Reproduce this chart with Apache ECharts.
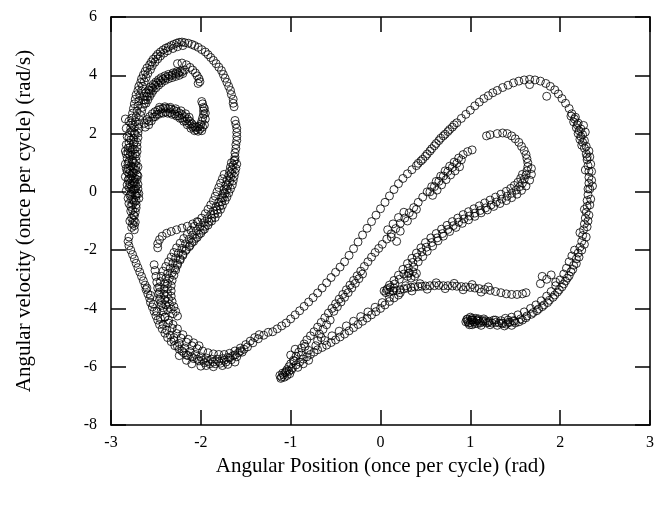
<!DOCTYPE html>
<html>
<head>
<meta charset="utf-8">
<script src="https://cdn.jsdelivr.net/npm/echarts@6/dist/echarts.min.js"></script>
<style>html,body{margin:0;padding:0;background:#fff;}#chart{width:657px;height:508px;}</style>
</head>
<body>
<div id="chart"></div>
<script>
const xTicks = [-3,-2,-1,0,1,2,3];
const yTicks = [-8,-6,-4,-2,0,2,4,6];
const xTitle = 'Angular Position (once per cycle) (rad)';
const yTitle = 'Angular velocity (once per cycle) (rad/s)';

const leftTopArc = [[-2.10,5.06],[-2.14,5.10],[-2.18,5.12],[-2.21,5.14],[-2.24,5.13],[-2.27,5.10],[-2.30,5.06],[-2.33,5.02],[-2.36,4.97],[-2.39,4.93],[-2.42,4.87],[-2.45,4.80],[-2.48,4.72],[-2.50,4.64],[-2.53,4.55],[-2.55,4.46],[-2.57,4.36],[-2.60,4.25],[-2.62,4.13],[-2.64,4.01],[-2.66,3.88],[-2.67,3.75],[-2.69,3.62],[-2.70,3.48],[-2.72,3.33],[-2.73,3.18],[-2.74,3.02],[-2.75,2.86],[-2.76,2.70],[-2.77,2.53],[-2.78,2.36],[-2.78,2.20],[-2.79,2.03],[-2.80,1.86],[-2.80,1.68],[-2.81,1.50],[-2.81,1.33],[-2.82,1.15],[-2.81,0.97],[-2.81,0.80],[-2.80,0.62],[-2.80,0.45],[-2.79,0.28],[-2.78,0.10],[-2.78,-0.08],[-2.77,-0.26],[-2.76,-0.44],[-2.76,-0.62],[-2.75,-0.80],[-2.75,-0.98],[-2.74,-1.16],[-2.74,-1.30]];
const leftTopArc2 = [[-2.20,5.02],[-2.26,4.98],[-2.31,4.92],[-2.37,4.84],[-2.41,4.76],[-2.45,4.66],[-2.48,4.56],[-2.51,4.45],[-2.54,4.33],[-2.56,4.20],[-2.59,4.06],[-2.61,3.92],[-2.63,3.78],[-2.65,3.62],[-2.66,3.46],[-2.68,3.30],[-2.69,3.12],[-2.70,2.95],[-2.71,2.77],[-2.72,2.58],[-2.73,2.40],[-2.74,2.21],[-2.74,2.02],[-2.75,1.83],[-2.75,1.64],[-2.76,1.44],[-2.76,1.25],[-2.76,1.05],[-2.76,0.86],[-2.75,0.66],[-2.75,0.47],[-2.74,0.28],[-2.74,0.08],[-2.73,-0.10],[-2.72,-0.30]];
const leftInner = [[-2.18,4.18],[-2.21,4.12],[-2.25,4.08],[-2.28,4.05],[-2.32,4.01],[-2.35,3.97],[-2.39,3.92],[-2.42,3.87],[-2.45,3.81],[-2.48,3.74],[-2.51,3.66],[-2.54,3.57],[-2.56,3.48],[-2.58,3.38],[-2.60,3.27],[-2.62,3.15],[-2.63,3.03],[-2.65,2.90],[-2.66,2.76],[-2.67,2.62],[-2.68,2.47],[-2.69,2.32],[-2.69,2.17],[-2.70,2.02],[-2.70,1.86],[-2.71,1.70],[-2.71,1.54],[-2.71,1.38],[-2.72,1.22],[-2.72,1.06],[-2.72,0.90],[-2.72,0.74],[-2.71,0.58],[-2.71,0.42],[-2.70,0.26],[-2.70,0.10],[-2.69,-0.06],[-2.69,-0.22]];
const leftInner2 = [[-2.20,4.06],[-2.24,4.00],[-2.28,3.96],[-2.32,3.92],[-2.36,3.88],[-2.40,3.82],[-2.44,3.74],[-2.47,3.66],[-2.50,3.57],[-2.53,3.48],[-2.55,3.38],[-2.57,3.28],[-2.59,3.16],[-2.61,3.04],[-2.23,4.14],[-2.27,4.12],[-2.31,4.08],[-2.36,4.03],[-2.40,3.98],[-2.44,3.92],[-2.47,3.85],[-2.50,3.77],[-2.53,3.69],[-2.56,3.60],[-2.58,3.50],[-2.61,3.40],[-2.63,3.28],[-2.64,3.16]];
const leftCluster = [[-2.83,1.30],[-2.79,1.25],[-2.76,1.10],[-2.84,0.95],[-2.78,0.88],[-2.74,0.78],[-2.82,0.70],[-2.77,0.55],[-2.73,0.45],[-2.81,0.40],[-2.76,0.30],[-2.72,0.20],[-2.80,0.15],[-2.75,0.05],[-2.79,-0.12],[-2.71,-0.05],[-2.74,-0.35],[-2.78,-0.50],[-2.73,-0.70],[-2.77,-0.90],[-2.76,-1.10],[-2.72,-0.55]];
const leftColumnDense = [[-2.84,2.50],[-2.80,2.42],[-2.76,2.30],[-2.83,2.18],[-2.77,2.08],[-2.73,1.98],[-2.82,1.90],[-2.78,1.78],[-2.74,1.70],[-2.83,1.62],[-2.79,1.52],[-2.74,1.46],[-2.84,1.40],[-2.78,1.36],[-2.73,1.30],[-2.80,1.04],[-2.74,0.98],[-2.70,0.86],[-2.83,0.80],[-2.79,0.74],[-2.76,0.64],[-2.70,0.55],[-2.84,0.52],[-2.78,0.46],[-2.74,0.36],[-2.82,0.24],[-2.77,0.18],[-2.73,0.10],[-2.83,0.04],[-2.77,-0.02],[-2.72,-0.14],[-2.81,-0.22],[-2.75,-0.28],[-2.80,-0.40],[-2.72,-0.44],[-2.78,-0.66],[-2.74,-0.82],[-2.79,-1.00],[-2.73,-1.04],[-2.77,-1.22]];
const leftHook = [[-2.26,4.40],[-2.21,4.42],[-2.16,4.36],[-2.12,4.27],[-2.09,4.18],[-2.06,4.08],[-2.04,3.98],[-2.02,3.88],[-2.01,3.78],[-2.03,3.72]];
const leftWave = [[-2.63,2.35],[-2.60,2.48],[-2.57,2.58],[-2.54,2.68],[-2.51,2.75],[-2.48,2.80],[-2.45,2.84],[-2.42,2.86],[-2.39,2.87],[-2.36,2.86],[-2.33,2.84],[-2.30,2.80],[-2.27,2.76],[-2.24,2.71],[-2.21,2.65],[-2.18,2.58],[-2.15,2.50],[-2.12,2.42],[-2.10,2.34],[-2.08,2.27],[-2.06,2.22],[-2.04,2.21],[-2.02,2.25],[-2.00,2.32],[-1.99,2.42],[-1.98,2.54],[-1.97,2.66],[-1.97,2.78],[-1.97,2.90],[-1.98,3.02],[-1.99,3.10],[-2.58,2.42],[-2.53,2.56],[-2.49,2.66],[-2.44,2.72],[-2.39,2.74],[-2.34,2.72],[-2.29,2.67],[-2.25,2.61],[-2.21,2.53],[-2.17,2.44],[-2.13,2.34],[-2.09,2.22],[-2.05,2.13],[-2.01,2.15],[-1.98,2.22]];
const leftWave2 = [[-2.62,2.22],[-2.58,2.30],[-2.55,2.44],[-2.51,2.58],[-2.47,2.66],[-2.42,2.70],[-2.37,2.70],[-2.32,2.66],[-2.27,2.60],[-2.23,2.52],[-2.19,2.42],[-2.15,2.30],[-2.11,2.18],[-2.07,2.10],[-2.03,2.08],[-1.99,2.10],[-1.96,2.30],[-1.95,2.50],[-1.95,2.70],[-1.96,2.86],[-2.46,2.90],[-2.40,2.92],[-2.34,2.90],[-2.28,2.85],[-2.22,2.78],[-2.17,2.68],[-2.13,2.56]];
const leftRight = [[-2.07,5.02],[-2.03,4.96],[-1.99,4.88],[-1.95,4.80],[-1.92,4.71],[-1.89,4.61],[-1.86,4.51],[-1.83,4.40],[-1.80,4.28],[-1.77,4.16],[-1.75,4.03],[-1.73,3.90],[-1.71,3.76],[-1.69,3.62],[-1.67,3.48],[-1.66,3.34],[-1.64,3.18],[-1.64,3.04],[-1.63,2.92],[-1.62,2.45],[-1.61,2.32],[-1.60,2.18],[-1.60,2.04],[-1.60,1.90],[-1.60,1.76],[-1.61,1.62],[-1.61,1.48],[-1.62,1.34],[-1.62,1.20],[-1.63,1.06],[-1.64,0.92],[-1.65,0.78],[-1.66,0.64],[-1.67,0.50],[-1.68,0.36],[-1.70,0.22],[-1.71,0.08],[-1.73,-0.06],[-1.75,-0.20],[-1.77,-0.34],[-1.79,-0.48],[-1.82,-0.62],[-1.85,-0.76],[-1.88,-0.90],[-1.91,-1.04],[-1.95,-1.18],[-1.98,-1.32],[-2.02,-1.46],[-2.06,-1.60],[-2.10,-1.74],[-2.13,-1.88],[-2.17,-2.02],[-2.20,-2.18],[-2.23,-2.34],[-2.26,-2.51],[-2.28,-2.68],[-2.30,-2.86],[-2.32,-3.04],[-2.33,-3.22],[-2.33,-3.40],[-2.33,-3.58],[-2.32,-3.76],[-2.30,-3.94],[-2.28,-4.10],[-2.26,-4.26]];
const leftRight2 = [[-1.66,1.00],[-1.67,0.85],[-1.68,0.70],[-1.69,0.55],[-1.71,0.40],[-1.72,0.25],[-1.74,0.10],[-1.75,-0.05],[-1.77,-0.20],[-1.80,-0.35],[-1.83,-0.50],[-1.86,-0.65],[-1.89,-0.78],[-1.93,-0.92],[-1.97,-1.06],[-2.01,-1.20],[-2.05,-1.34],[-2.09,-1.48],[-2.13,-1.63],[-2.17,-1.78],[-2.21,-1.94],[-2.25,-2.10],[-2.28,-2.27],[-2.31,-2.44],[-2.34,-2.62],[-2.37,-2.80],[-2.39,-2.98],[-2.40,-3.16],[-2.41,-3.34],[-2.41,-3.52],[-2.40,-3.70],[-2.39,-3.88],[-2.37,-4.04]];
const leftRight3 = [[-1.62,1.10],[-1.60,0.95],[-1.61,0.80],[-1.62,0.66],[-1.63,0.52],[-1.64,0.38],[-1.65,0.24],[-1.67,0.10],[-1.69,-0.04],[-1.71,-0.18],[-1.73,-0.30],[-1.76,-0.46],[-1.78,-0.60],[-1.81,-0.74],[-1.84,-0.88],[-1.88,-1.00],[-1.92,-1.14],[-1.96,-1.28],[-2.00,-1.42],[-2.04,-1.56],[-2.08,-1.70],[-2.12,-1.84],[-2.16,-1.98],[-2.20,-2.14],[-2.23,-2.30],[-2.26,-2.46],[-2.29,-2.62],[-2.32,-2.78],[-2.35,-2.96],[-2.37,-3.14],[-2.37,-3.32],[-2.37,-3.50],[-2.36,-3.68],[-2.35,-3.86],[-2.33,-4.02],[-2.31,-4.18]];
const leftRight4 = [[-1.74,0.60],[-1.76,0.45],[-1.78,0.30],[-1.80,0.15],[-1.82,0.00],[-1.84,-0.15],[-1.86,-0.30],[-1.89,-0.45],[-1.92,-0.60],[-1.95,-0.75],[-1.99,-0.90],[-2.03,-1.04],[-2.07,-1.18],[-2.11,-1.32],[-2.15,-1.46],[-2.19,-1.60],[-2.23,-1.76],[-2.27,-1.92],[-2.30,-2.08],[-2.33,-2.24],[-2.36,-2.40],[-2.39,-2.56],[-2.42,-2.72],[-2.44,-2.90],[-2.45,-3.08],[-2.46,-3.26],[-2.46,-3.44],[-2.45,-3.62],[-2.44,-3.80],[-2.42,-3.98]];
const leftCurl = [[-2.48,-1.92],[-2.48,-1.78],[-2.46,-1.64],[-2.43,-1.52],[-2.38,-1.42],[-2.33,-1.36],[-2.27,-1.30],[-2.21,-1.24],[-2.15,-1.18],[-2.09,-1.10],[-2.04,-1.02]];
const leftBand3 = [[-2.52,-2.50],[-2.51,-2.70],[-2.50,-2.90],[-2.49,-3.10],[-2.48,-3.30],[-2.47,-3.50],[-2.46,-3.70],[-2.44,-3.90],[-2.42,-4.10],[-2.40,-4.30]];
const leftColumnLow = [[-2.80,-1.55],[-2.81,-1.70],[-2.80,-1.85],[-2.78,-2.00],[-2.76,-2.15],[-2.74,-2.30],[-2.72,-2.45],[-2.70,-2.60],[-2.68,-2.75],[-2.66,-2.90],[-2.64,-3.05],[-2.62,-3.20],[-2.61,-3.35],[-2.59,-3.50],[-2.57,-3.65],[-2.56,-3.80],[-2.54,-3.95],[-2.52,-4.10],[-2.50,-4.25],[-2.48,-4.40],[-2.46,-4.55],[-2.43,-4.70],[-2.40,-4.85],[-2.37,-5.00],[-2.33,-5.14],[-2.29,-5.28],[-2.24,-5.40],[-2.19,-5.52],[-2.14,-5.62],[-2.08,-5.72],[-2.02,-5.80],[-1.96,-5.86],[-1.90,-5.90],[-1.84,-5.90],[-1.78,-5.88],[-1.72,-5.84],[-1.66,-5.76],[-1.60,-5.66],[-1.54,-5.50],[-1.48,-5.32],[-1.42,-5.18],[-1.36,-5.04],[-1.30,-4.92],[-1.25,-4.82]];
const leftBottomInner = [[-2.40,-4.30],[-2.36,-4.50],[-2.32,-4.68],[-2.27,-4.86],[-2.22,-5.02],[-2.16,-5.16],[-2.10,-5.28],[-2.04,-5.38],[-1.98,-5.46],[-1.92,-5.52],[-1.86,-5.56],[-1.80,-5.58],[-1.74,-5.58],[-1.68,-5.54],[-1.62,-5.46],[-1.56,-5.36],[-1.50,-5.24],[-1.45,-5.12],[-1.40,-5.00],[-1.35,-4.90],[-2.30,-5.00],[-2.24,-5.20],[-2.18,-5.36],[-2.12,-5.48],[-2.06,-5.58],[-2.00,-5.66],[-1.94,-5.70],[-1.88,-5.74],[-1.82,-5.74],[-1.76,-5.72],[-1.70,-5.68],[-1.64,-5.62],[-1.58,-5.52],[-1.52,-5.40]];
const leftBottomMore = [[-2.60,-3.30],[-2.56,-3.55],[-2.53,-3.85],[-2.49,-4.10],[-2.45,-4.35],[-2.42,-4.55],[-2.38,-4.75],[-2.34,-4.92],[-2.30,-5.10],[-2.26,-5.30],[-2.21,-5.46],[-2.16,-5.60],[-2.10,-5.66],[-2.04,-5.74],[-1.98,-5.78],[-1.92,-5.82],[-1.86,-5.84],[-1.80,-5.82],[-1.74,-5.78],[-1.68,-5.70],[-1.62,-5.60],[-1.56,-5.46],[-2.36,-4.40],[-2.31,-4.55],[-2.26,-4.70],[-2.20,-4.90],[-2.14,-5.06],[-2.08,-5.18],[-2.02,-5.28]];
const leftBottomOuter = [[-2.10,-5.90],[-2.00,-5.98],[-1.94,-5.96],[-1.86,-6.00],[-1.76,-5.96],[-1.70,-5.92],[-2.16,-5.78],[-2.24,-5.62],[-1.62,-5.84]];
const upperLine = [[-1.20,-4.80],[-1.15,-4.70],[-1.10,-4.60],[-1.05,-4.50],[-1.00,-4.36],[-0.95,-4.22],[-0.90,-4.08],[-0.85,-3.93],[-0.80,-3.78],[-0.75,-3.63],[-0.70,-3.47],[-0.65,-3.30],[-0.60,-3.12],[-0.55,-2.94],[-0.50,-2.76],[-0.45,-2.58],[-0.40,-2.40],[-0.35,-2.18],[-0.30,-1.95],[-0.25,-1.72],[-0.20,-1.48],[-0.15,-1.25],[-0.10,-1.02],[-0.05,-0.80],[0.00,-0.58],[0.05,-0.36],[0.10,-0.14],[0.15,0.08],[0.20,0.28],[0.25,0.46],[0.30,0.62],[0.35,0.76],[0.40,0.90],[0.45,1.06],[0.50,1.22],[0.55,1.40],[0.60,1.58],[0.65,1.76],[0.70,1.92],[0.75,2.07],[0.80,2.22],[0.85,2.37],[0.90,2.52],[0.95,2.66],[0.42,0.98],[0.47,1.12],[0.52,1.30],[0.57,1.48],[0.62,1.66],[0.67,1.84],[0.72,1.98],[0.77,2.14],[0.82,2.30]];
const rightArc = [[1.00,2.80],[1.05,2.95],[1.10,3.08],[1.15,3.20],[1.20,3.30],[1.25,3.40],[1.30,3.48],[1.36,3.58],[1.42,3.66],[1.48,3.74],[1.54,3.80],[1.60,3.84],[1.66,3.86],[1.72,3.84],[1.78,3.80],[1.84,3.72],[1.89,3.62],[1.94,3.50],[1.98,3.36],[2.02,3.20],[2.06,3.04],[2.10,2.86],[2.13,2.68],[2.16,2.50],[2.19,2.30],[2.21,2.10],[2.23,1.90],[2.25,1.70],[2.27,1.50],[2.29,1.30],[2.30,1.10],[2.31,0.90],[2.32,0.70],[2.32,0.50],[2.32,0.30],[2.31,0.10],[2.31,-0.10],[2.30,-0.30],[2.30,-0.50],[2.29,-0.70],[2.28,-0.90],[2.27,-1.10],[2.26,-1.30],[2.25,-1.50],[2.24,-1.70],[2.22,-1.90],[2.20,-2.10],[2.18,-2.30],[2.15,-2.52],[2.12,-2.74],[2.08,-2.96],[2.04,-3.16],[1.99,-3.36],[1.94,-3.54],[1.88,-3.72],[1.82,-3.88],[1.76,-4.02],[1.70,-4.14],[1.63,-4.26],[1.56,-4.36],[1.49,-4.44],[1.42,-4.48],[1.35,-4.50],[1.28,-4.48],[1.21,-4.44],[1.14,-4.42],[1.08,-4.40],[1.02,-4.40],[1.66,3.68],[1.85,3.28]];
const rightArc2 = [[2.12,2.60],[2.15,2.40],[2.18,2.20],[2.20,2.00],[2.22,1.80],[2.24,1.60],[2.30,1.20],[2.34,0.95],[2.28,0.75],[2.35,0.40],[2.33,0.10],[2.27,-0.60],[2.31,-1.00],[2.22,-1.40],[2.27,-1.80],[2.16,-2.00],[2.13,-2.20],[2.10,-2.40],[2.07,-2.62],[2.04,-2.82],[2.00,-3.02],[1.95,-3.22],[1.90,-3.42],[1.85,-3.58],[1.79,-3.74],[1.73,-3.88],[1.67,-4.00],[1.60,-4.12],[1.53,-4.22],[1.46,-4.30],[1.39,-4.34],[1.80,-2.90],[1.85,-3.00],[1.90,-2.85],[1.95,-3.10],[1.78,-3.15]];
const rightArc3 = [[2.17,2.56],[2.20,2.36],[2.23,2.16],[2.25,1.96],[2.27,1.76],[2.29,1.56],[2.26,2.28],[2.28,2.05],[2.32,1.40],[2.33,1.20],[2.35,0.70],[2.36,0.20],[2.34,-0.25],[2.33,-0.45],[2.32,-0.80],[2.30,-1.20],[2.29,-1.55],[2.24,-2.00],[2.21,-2.24],[2.18,-2.46],[2.14,-2.66],[2.10,-2.88],[2.06,-3.06],[2.02,-3.26],[1.97,-3.44],[1.92,-3.62],[1.86,-3.80],[1.80,-3.94],[1.74,-4.08],[1.68,-4.20],[1.62,-4.32]];
const tongue = [[0.96,-4.38],[0.98,-4.50],[1.00,-4.30],[1.02,-4.56],[1.04,-4.46],[1.06,-4.34],[1.08,-4.52],[1.10,-4.44],[1.12,-4.58],[1.15,-4.36],[1.18,-4.50],[1.22,-4.56],[1.26,-4.40],[1.30,-4.58],[1.34,-4.42],[1.38,-4.60],[1.42,-4.40],[1.46,-4.58],[1.50,-4.50],[0.97,-4.44],[1.01,-4.40],[1.03,-4.40],[0.95,-4.46],[0.97,-4.36],[0.99,-4.56],[1.00,-4.48],[1.02,-4.34],[1.05,-4.52],[1.07,-4.42],[1.09,-4.36],[1.11,-4.50],[1.14,-4.46],[1.17,-4.42],[1.20,-4.48],[1.24,-4.50],[1.28,-4.40],[1.32,-4.50],[1.36,-4.52],[1.40,-4.54],[1.44,-4.48],[1.48,-4.42],[1.54,-4.46],[1.58,-4.40]];
const hookDense = [[1.18,1.92],[1.22,1.96],[1.30,2.00],[1.36,2.02],[1.41,2.00],[1.46,1.92],[1.50,1.82],[1.54,1.70],[1.57,1.56],[1.60,1.42],[1.62,1.28],[1.63,1.14],[1.64,1.00],[1.64,0.86],[1.63,0.72],[1.62,0.58],[1.60,0.44],[1.58,0.30],[1.55,0.18],[1.51,0.06],[1.46,-0.05],[1.41,-0.15],[1.35,-0.25],[1.29,-0.35],[1.23,-0.45],[1.17,-0.55],[1.11,-0.64],[1.05,-0.73],[0.99,-0.83],[0.93,-0.93],[0.87,-1.04],[0.81,-1.16],[0.75,-1.29],[0.69,-1.43],[0.63,-1.58],[0.57,-1.74],[0.51,-1.90],[0.46,-2.06],[0.41,-2.24],[0.36,-2.42],[0.31,-2.62],[0.26,-2.82],[0.21,-3.00],[0.16,-3.16],[0.11,-3.28],[0.07,-3.36],[0.04,-3.40]];
const denseRow2 = [[1.58,0.60],[1.56,0.46],[1.53,0.33],[1.49,0.22],[1.45,0.12],[1.40,0.02],[1.34,-0.08],[1.28,-0.18],[1.22,-0.28],[1.16,-0.38],[1.10,-0.48],[1.04,-0.58],[0.98,-0.68],[0.92,-0.78],[0.86,-0.90],[0.80,-1.02],[0.74,-1.15],[0.68,-1.28],[0.62,-1.43],[0.56,-1.58],[0.50,-1.74],[0.45,-1.92],[0.40,-2.10],[0.35,-2.28],[0.30,-2.46],[0.25,-2.66],[0.20,-2.86],[0.15,-3.04],[0.10,-3.20]];
const denseRow3 = [[1.68,0.80],[1.68,0.60],[1.66,0.40],[1.62,0.20],[1.57,0.05],[1.52,-0.08],[1.46,-0.20],[1.40,-0.30],[1.33,-0.40],[1.26,-0.50],[1.19,-0.62],[1.12,-0.72],[1.05,-0.84],[0.98,-0.96],[0.91,-1.08],[0.84,-1.22],[0.77,-1.36],[0.70,-1.52],[0.64,-1.68],[0.58,-1.86],[0.52,-2.04],[0.47,-2.22],[0.42,-2.40],[0.37,-2.58],[0.32,-2.78],[0.30,-2.90],[0.34,-2.96],[0.38,-2.90],[0.40,-2.80],[0.36,-2.74],[0.31,-2.80]];
const flatBand = [[0.06,-3.46],[0.10,-3.44],[0.14,-3.40],[0.18,-3.38],[0.22,-3.36],[0.26,-3.33],[0.30,-3.30],[0.34,-3.28],[0.38,-3.26],[0.42,-3.25],[0.46,-3.24],[0.50,-3.23],[0.55,-3.22],[0.60,-3.22],[0.65,-3.21],[0.70,-3.22],[0.75,-3.22],[0.80,-3.23],[0.85,-3.24],[0.90,-3.25],[0.95,-3.26],[1.00,-3.28],[1.05,-3.30],[1.10,-3.32],[1.16,-3.35],[1.22,-3.38],[1.28,-3.42],[1.34,-3.46],[1.40,-3.50],[1.46,-3.52],[1.52,-3.52],[1.58,-3.50],[1.62,-3.46],[0.08,-3.32],[0.15,-3.30],[0.22,-3.46],[0.28,-3.22],[0.35,-3.40],[0.44,-3.15],[0.52,-3.34],[0.62,-3.12],[0.72,-3.32],[0.82,-3.14],[0.92,-3.36],[1.02,-3.18],[1.12,-3.44],[1.20,-3.26]];
const middleLine = [[-1.10,-6.36],[-1.08,-6.28],[-1.06,-6.20],[-1.04,-6.10],[-1.02,-6.00],[-1.00,-5.90],[-0.97,-5.78],[-0.94,-5.64],[-0.91,-5.50],[-0.88,-5.36],[-0.85,-5.22],[-0.82,-5.08],[-0.78,-4.94],[-0.74,-4.80],[-0.70,-4.64],[-0.66,-4.48],[-0.62,-4.32],[-0.58,-4.16],[-0.54,-4.00],[-0.50,-3.84],[-0.46,-3.68],[-0.42,-3.52],[-0.38,-3.36],[-0.34,-3.20],[-0.30,-3.04],[-0.26,-2.88],[-0.22,-2.72],[-0.18,-2.56],[-0.14,-2.40],[-0.10,-2.24],[-0.06,-2.08],[-0.02,-1.94],[0.02,-1.80],[0.07,-1.62],[0.12,-1.44],[0.17,-1.26],[0.22,-1.08],[0.27,-0.90],[0.32,-0.72],[0.37,-0.54],[0.42,-0.36],[0.47,-0.18],[0.52,0.00],[0.57,0.18],[0.62,0.36],[0.67,0.54],[0.72,0.72],[0.77,0.88],[0.82,1.02],[0.87,1.16],[0.92,1.28],[0.97,1.38],[1.02,1.44]];
const middleExtra = [[-1.12,-6.30],[-1.07,-6.36],[-1.04,-6.30],[-1.09,-6.22],[-1.05,-6.16],[-1.11,-6.40],[-1.01,-6.24],[-0.99,-6.10],[0.55,0.00],[0.60,0.18],[0.65,0.36],[0.70,0.54],[0.75,0.70],[0.80,0.84],[0.85,0.98],[0.90,1.10],[0.58,-0.12],[0.63,0.06],[0.68,0.24],[0.73,0.42],[0.78,0.58],[0.83,0.72],[0.88,0.86],[-0.52,-4.10],[-0.48,-3.94],[-0.44,-3.78],[-0.40,-3.62],[-0.36,-3.46],[-0.32,-3.30],[-0.28,-3.14],[-0.24,-2.98],[-0.20,-2.82],[-0.56,-4.40],[-0.60,-4.56],[-0.64,-4.72],[-0.68,-4.88],[0.08,-1.30],[0.14,-1.10],[0.20,-0.88],[0.26,-0.70],[0.12,-1.55],[0.30,-1.00],[0.36,-0.80],[0.22,-1.35],[0.40,-0.60],[0.18,-1.70]];
const lowerLine = [[-1.02,-6.16],[-0.98,-6.04],[-0.94,-5.94],[-0.90,-5.84],[-0.86,-5.74],[-0.82,-5.66],[-0.78,-5.58],[-0.74,-5.50],[-0.70,-5.42],[-0.65,-5.34],[-0.60,-5.26],[-0.55,-5.17],[-0.50,-5.08],[-0.45,-4.98],[-0.40,-4.88],[-0.35,-4.77],[-0.30,-4.66],[-0.25,-4.55],[-0.20,-4.44],[-0.15,-4.33],[-0.10,-4.22],[-0.05,-4.11],[0.00,-4.00],[0.05,-3.88],[0.10,-3.76],[0.15,-3.64],[0.20,-3.54],[-0.96,-5.80],[-0.88,-5.60],[-0.80,-5.44],[-0.72,-5.28],[-0.62,-5.10],[-0.54,-4.94],[-0.46,-4.78],[-0.38,-4.60],[-0.30,-4.44],[-0.22,-4.28],[-0.14,-4.12],[-0.06,-3.96],[0.02,-3.80],[0.10,-3.62],[-0.92,-6.02],[-0.86,-5.90],[-0.80,-5.78],[-1.00,-5.60],[-0.95,-5.40],[-0.84,-5.30],[-0.70,-5.10],[-0.66,-5.00]];

const allPoints = [].concat(leftTopArc, leftTopArc2, leftInner, leftInner2, leftCluster, leftColumnDense, leftHook, leftWave, leftWave2, leftRight, leftRight2, leftRight3, leftRight4, leftCurl, leftBand3, leftColumnLow, leftBottomInner, leftBottomMore, leftBottomOuter, upperLine, rightArc, rightArc2, rightArc3, tongue, hookDense, denseRow2, denseRow3, flatBand, middleLine, middleExtra, lowerLine);

const FONT = 'Liberation Serif';
const chart = echarts.init(document.getElementById('chart'), null, {renderer: 'canvas'});
const baseAxis = {
  axisLine: {show: true, onZero: false, lineStyle: {color: '#000', width: 1.5}},
  axisTick: {show: true, inside: true, length: 15, lineStyle: {color: '#000', width: 1.5}},
  splitLine: {show: false}
};
chart.setOption({
  animation: false,
  backgroundColor: '#fff',
  grid: {left: 111, right: 6, top: 17, bottom: 83, containLabel: false},
  xAxis: [
    Object.assign({}, baseAxis, {
      type: 'value', position: 'bottom', min: xTicks[0], max: xTicks[xTicks.length-1], interval: 1,
      axisLabel: {color: '#000', fontFamily: FONT, fontSize: 16, margin: 10},
      name: xTitle, nameLocation: 'middle', nameGap: 30,
      nameTextStyle: {color: '#000', fontFamily: FONT, fontSize: 21}
    }),
    Object.assign({}, baseAxis, {
      type: 'value', position: 'top', min: xTicks[0], max: xTicks[xTicks.length-1], interval: 1,
      axisLabel: {show: false}
    })
  ],
  yAxis: [
    Object.assign({}, baseAxis, {
      type: 'value', position: 'left', min: yTicks[0], max: yTicks[yTicks.length-1], interval: 2,
      axisLabel: {color: '#000', fontFamily: FONT, fontSize: 16, margin: 14},
      name: yTitle, nameLocation: 'middle', nameGap: 76,
      nameTextStyle: {color: '#000', fontFamily: FONT, fontSize: 21}
    }),
    Object.assign({}, baseAxis, {
      type: 'value', position: 'right', min: yTicks[0], max: yTicks[yTicks.length-1], interval: 2,
      axisLabel: {show: false}
    })
  ],
  series: [{
    type: 'scatter', xAxisIndex: 0, yAxisIndex: 0,
    symbol: 'circle', symbolSize: 8,
    itemStyle: {color: 'rgba(0,0,0,0)', borderColor: '#000', borderWidth: 1},
    data: allPoints
  }]
});
</script>
</body>
</html>
